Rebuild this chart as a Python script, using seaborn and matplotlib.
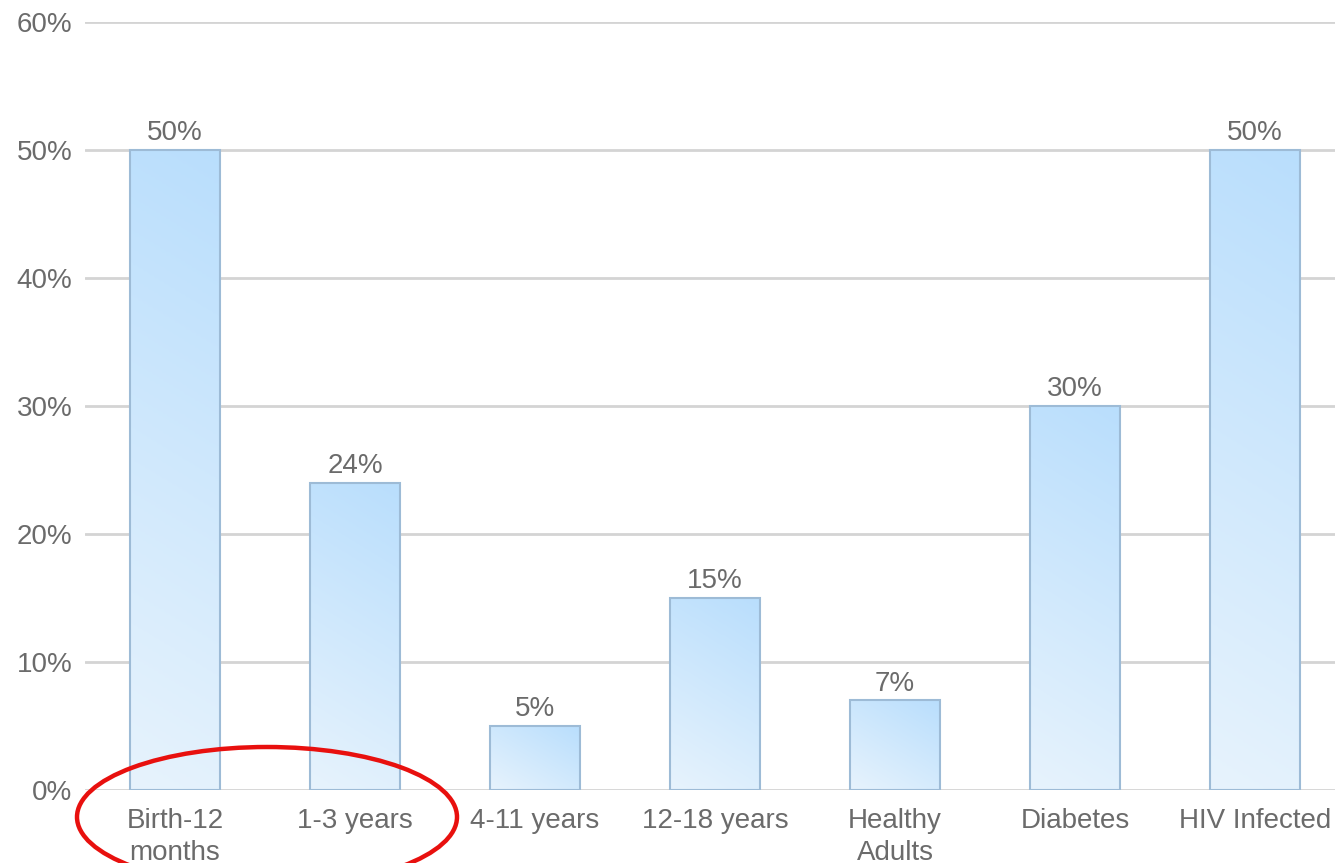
import numpy as np
import pandas as pd
import matplotlib
matplotlib.use("Agg")
import matplotlib.pyplot as plt
import seaborn as sns
from matplotlib.patches import Ellipse
from matplotlib.colors import LinearSegmentedColormap

categories = ["Birth-12\nmonths", "1-3 years", "4-11 years", "12-18 years",
              "Healthy\nAdults", "Diabetes", "HIV Infected"]
values = [50, 24, 5, 15, 7, 30, 50]
yticks = [0, 10, 20, 30, 40, 50, 60]

sns.set_theme(style="white")
plt.rcParams['font.family'] = ['Liberation Sans', 'DejaVu Sans']

W, H = 1335, 863
fig = plt.figure(figsize=(W / 100, H / 100), dpi=100)
ax_left, ax_right = 85 / W, 1345 / W
ax_bottom, ax_top = 1 - 790 / H, 1 - 22 / H
ax = fig.add_axes([ax_left, ax_bottom, ax_right - ax_left, ax_top - ax_bottom])

df = pd.DataFrame({"cat": categories, "val": values})
sns.barplot(data=df, x="cat", y="val", ax=ax, width=0.5, color="#cfe6fb",
            edgecolor="#9dbbd6", linewidth=1.5, zorder=3)

ax.set_ylim(0, 60)
ax.set_xlim(-0.5, len(categories) - 0.5)
ax.set_yticks(yticks)
ax.set_yticklabels([f"{t}%" for t in yticks])
ax.set_xlabel("")
ax.set_ylabel("")
ax.yaxis.grid(True, color="#d4d4d4", linewidth=2, zorder=0)
ax.set_axisbelow(True)
for s in ax.spines.values():
    s.set_visible(False)
ax.tick_params(axis="both", length=0, labelsize=20, labelcolor="#6b6b6b")
ax.tick_params(axis="y", pad=9)
ax.tick_params(axis="x", pad=13)
for lbl in ax.get_xticklabels():
    lbl.set_linespacing(1.3)

# diagonal gradient fill (light bottom-left -> darker top-right), in pixel space
cmap = LinearSegmentedColormap.from_list("g", ["#e7f3fd", "#b9defc"])
px_per_x = (ax_right - ax_left) * W / len(categories)
px_per_y = (ax_top - ax_bottom) * H / 60.0
dirx, diry = 0.6, 1.0
for p in list(ax.patches):
    x0, y0 = p.get_x(), p.get_y()
    w, h = p.get_width(), p.get_height()
    wp, hp = w * px_per_x, h * px_per_y
    xs = np.linspace(0, wp, 60)
    ys = np.linspace(0, hp, 200)
    XX, YY = np.meshgrid(xs, ys)
    t = (XX * dirx + YY * diry) / (wp * dirx + hp * diry)
    im = ax.imshow(t, extent=[x0, x0 + w, y0, y0 + h], origin="lower",
                   cmap=cmap, vmin=0, vmax=1, aspect="auto", zorder=3.5,
                   interpolation="bilinear")
    im.set_clip_path(p)
    p.set_facecolor("none")
    p.set_zorder(4)
ax.set_xlim(-0.5, len(categories) - 0.5)
ax.set_ylim(0, 60)

for i, v in enumerate(values):
    ax.text(i, v + 0.3, f"{v}%", ha="center", va="bottom", fontsize=20,
            color="#6b6b6b", zorder=5)

# red ellipse annotation
ell = Ellipse((267 / W, 1 - 817 / H), 380 / W, 140 / H, transform=fig.transFigure,
              fill=False, edgecolor="#e8100e", linewidth=3.2, clip_on=False)
fig.patches.append(ell)

fig.savefig("out.png", dpi=100)
